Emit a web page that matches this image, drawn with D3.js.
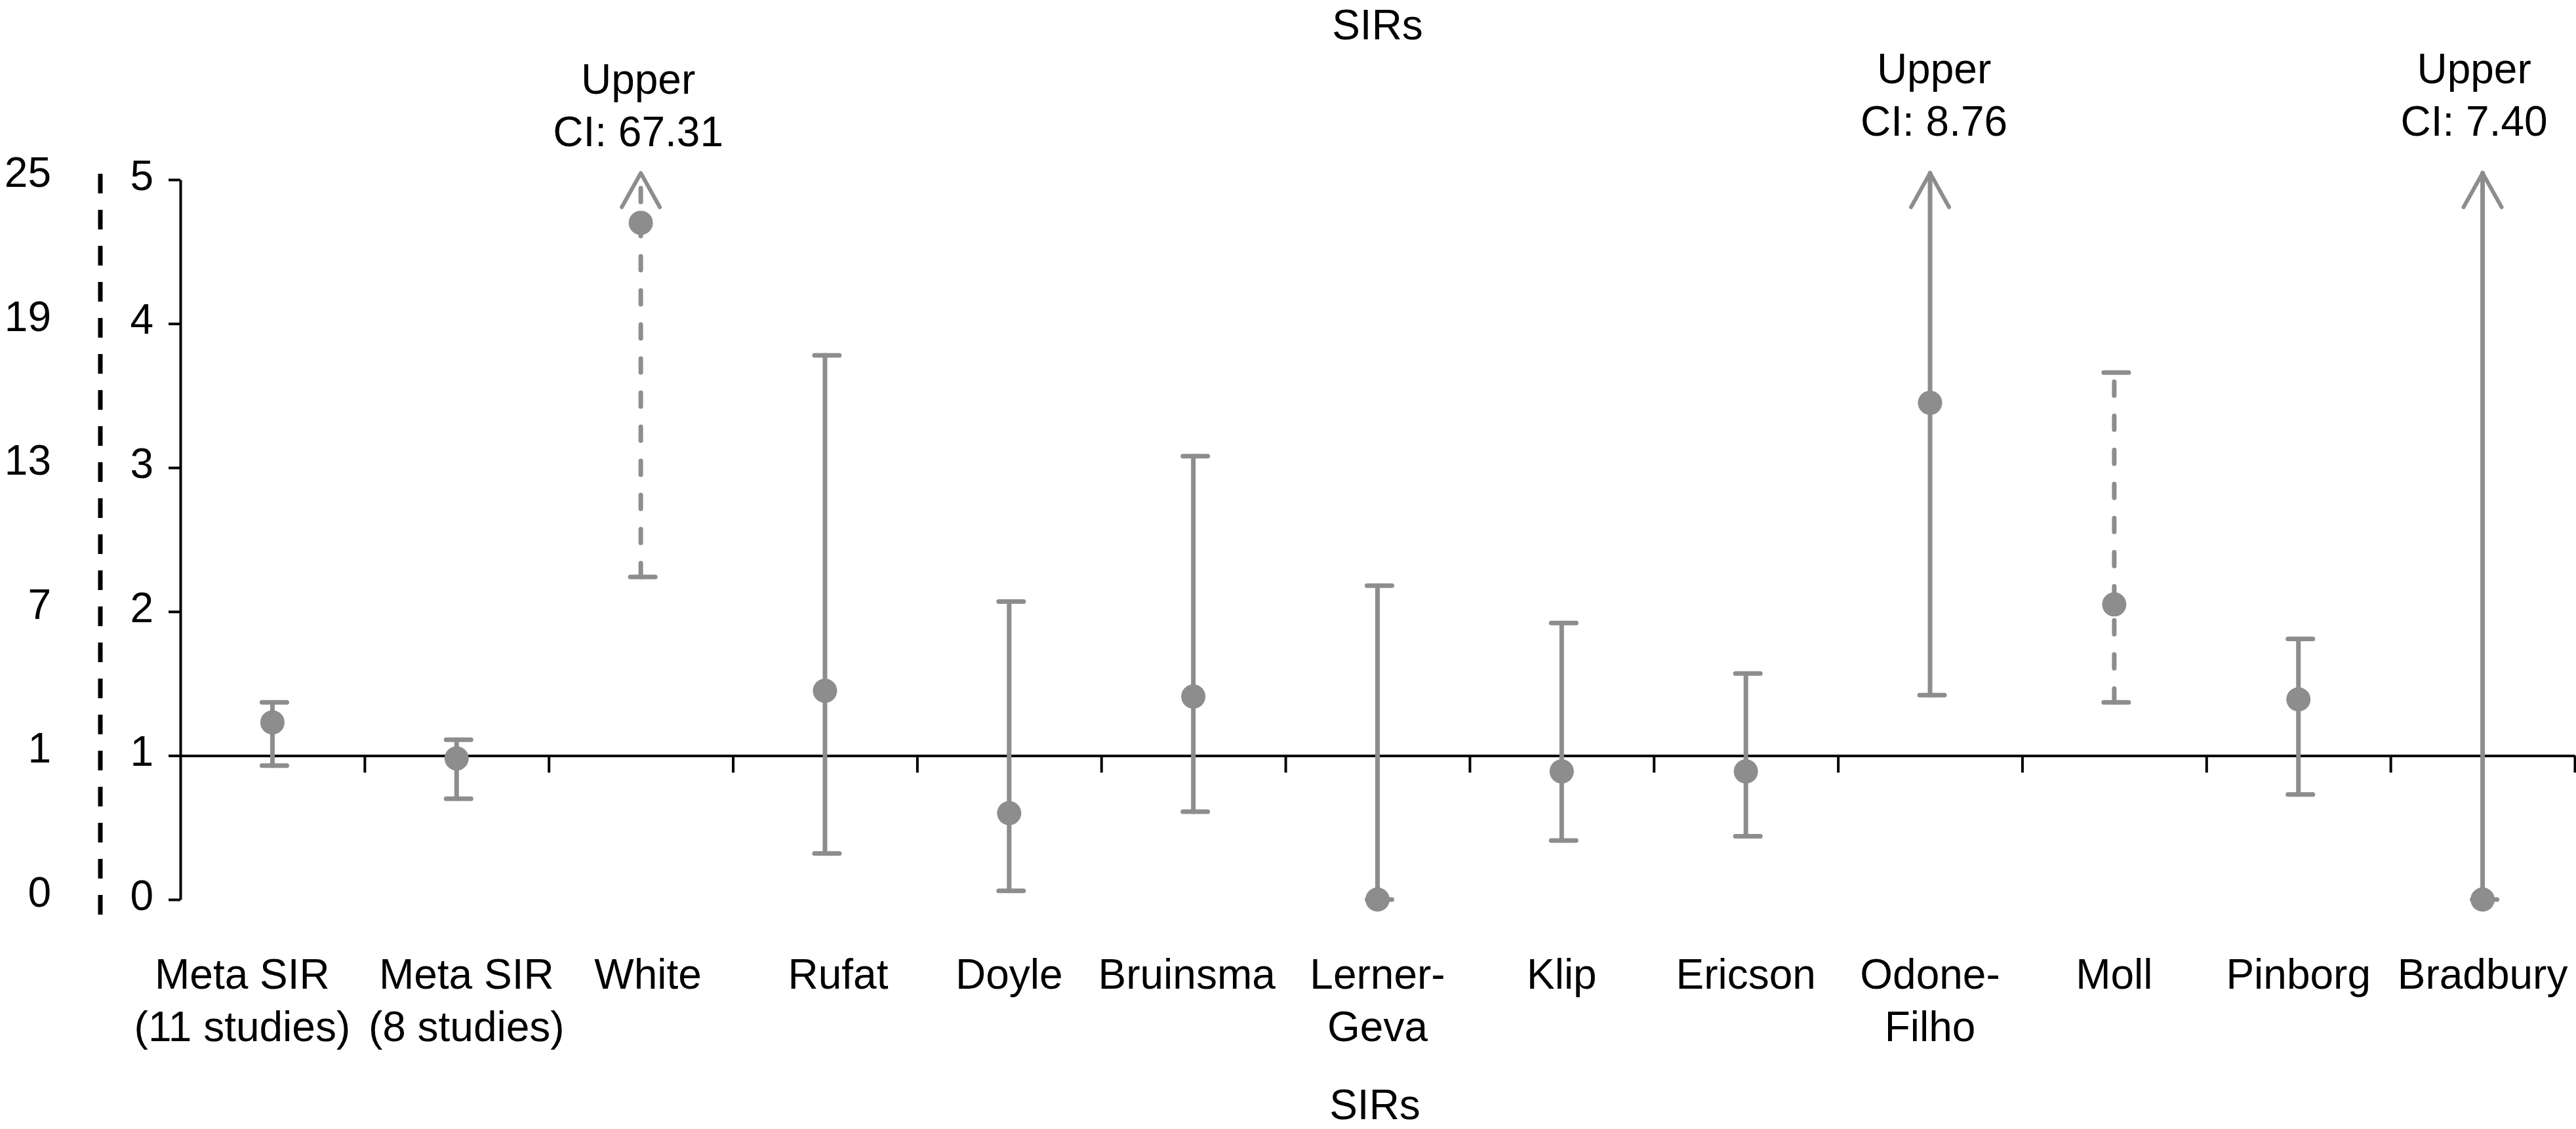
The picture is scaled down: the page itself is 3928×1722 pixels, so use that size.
<!DOCTYPE html>
<html>
<head>
<meta charset="utf-8">
<script src="https://cdn.jsdelivr.net/npm/d3@7"></script>
<style>
  html, body { margin: 0; padding: 0; background: #fff; }
  svg { display: block; }
  text { font-family: "Liberation Sans", Arial, Helvetica, sans-serif; fill: #000; }
</style>
</head>
<body>
<svg id="chart" width="3928" height="1722"></svg>
<script>
// ---------------- DATA ----------------
const categories = [
  "Meta SIR\n(11 studies)", "Meta SIR\n(8 studies)", "White", "Rufat", "Doyle", "Bruinsma",
  "Lerner-\nGeva", "Klip", "Ericson", "Odone-\nFilho", "Moll", "Pinborg", "Bradbury"
];
// values on the plotted (inner, 0–5) axis
const sir     = [1.23, 0.98, 4.70, 1.45, 0.60, 1.41, 0.00, 0.89, 0.89, 3.45, 2.05, 1.39, 0.00];
const lowerCI = [0.93, 0.70, 2.24, 0.32, 0.06, 0.61, 0.00, 0.41, 0.44, 1.42, 1.37, 0.73, 0.00];
const upperCI = [1.37, 1.11, null, 3.78, 2.07, 3.08, 2.18, 1.92, 1.57, null, 3.66, 1.81, null];
// upper CI beyond the axis (shown as an arrow with a note)
const offScaleUpper = [null, null, "67.31", null, null, null, null, null, null, "8.76", null, null, "7.40"];
const dashedCI = [false, false, true, false, false, false, false, false, false, false, true, false, false];
const innerTicks = [0, 1, 2, 3, 4, 5];
const outerTickLabels = ["0", "1", "7", "13", "19", "25"];
const axisTitle = "SIRs";

// ---------------- LAYOUT ----------------
const W = 3928, H = 1722;
const xLeft = 275, xRight = 3926;
const yZero = 1372, yFive = 274;
const grey = "#8d8d8d";
const fontSize = 64;
const barWidth = 7;
// small horizontal nudges of category labels (px), as placed in the original
const labelNudge = {0: -46, 1: 15, 2: 11, 3: 20, 5: -10};
// annotation placement relative to arrow: dx, baseline of 2nd line above tip
const annotPlace = {2: {dx: -4, up: 41}, 9: {dx: 6, up: 57}, 12: {dx: -13, up: 57}};

const svg = d3.select("#chart");
svg.append("rect").attr("width", W).attr("height", H).attr("fill", "#fff");

const x = d3.scaleBand().domain(d3.range(categories.length)).range([xLeft, xRight]).padding(0);
const y = d3.scaleLinear().domain([0, 5]).range([yZero, yFive]);
const bw = x.bandwidth();
const cx = i => x(i) + bw / 2;

// ---- left dashed (broken scale) line ----
svg.append("line")
  .attr("x1", 153).attr("x2", 153).attr("y1", 265).attr("y2", 1396)
  .attr("stroke", "#000").attr("stroke-width", 7).attr("stroke-dasharray", "30,25");

// ---- outer tick labels ----
svg.append("g").selectAll("text").data(outerTickLabels).join("text")
  .attr("x", 78).attr("y", (d, i) => y(innerTicks[i]) + 11)
  .attr("text-anchor", "end").attr("font-size", fontSize).text(d => d);

// ---- inner y axis ----
const yAxis = d3.axisLeft(y).tickValues(innerTicks).tickFormat(d3.format("d"))
  .tickSizeInner(18).tickSizeOuter(0).tickPadding(23);
const gy = svg.append("g").attr("transform", `translate(${xLeft},0)`).call(yAxis);
gy.select(".domain").attr("stroke", "#000").attr("stroke-width", 4);
gy.selectAll(".tick line").attr("stroke", "#000").attr("stroke-width", 4);
gy.selectAll(".tick text").attr("font-size", fontSize).attr("dy", "0.24em")
  .attr("font-family", '"Liberation Sans", Arial, sans-serif').attr("fill", "#000");

// ---- horizontal axis at SIR = 1 ----
const xb = d3.scaleLinear().domain([0, categories.length]).range([xLeft, xRight]);
const xAxis = d3.axisBottom(xb).tickValues(d3.range(1, categories.length + 1)).tickFormat("")
  .tickSizeInner(26).tickSizeOuter(0);
const gx = svg.append("g").attr("transform", `translate(0,${y(1)})`).call(xAxis);
gx.select(".domain").attr("stroke", "#000").attr("stroke-width", 4);
gx.selectAll(".tick line").attr("stroke", "#000").attr("stroke-width", 4);

// ---- error bars ----
const tipY = yFive - 10;
const g = svg.append("g");
categories.forEach((c, i) => {
  const X = cx(i);
  const top = upperCI[i] !== null ? y(upperCI[i]) : tipY;
  g.append("line")
    .attr("x1", X).attr("x2", X).attr("y1", y(lowerCI[i])).attr("y2", top)
    .attr("stroke", grey).attr("stroke-width", barWidth).attr("stroke-linecap", "round")
    .attr("stroke-dasharray", dashedCI[i] ? "21,31" : null);
  // lower cap
  g.append("line").attr("x1", X - 16).attr("x2", X + 22)
    .attr("y1", y(lowerCI[i])).attr("y2", y(lowerCI[i]))
    .attr("stroke", grey).attr("stroke-width", barWidth).attr("stroke-linecap", "round");
  if (upperCI[i] !== null) {
    g.append("line").attr("x1", X - 16).attr("x2", X + 22)
      .attr("y1", y(upperCI[i])).attr("y2", y(upperCI[i]))
      .attr("stroke", grey).attr("stroke-width", barWidth).attr("stroke-linecap", "round");
  } else {
    g.append("path")
      .attr("d", `M${X - 29},${tipY + 52} L${X},${tipY} L${X + 29},${tipY + 52}`)
      .attr("fill", "none").attr("stroke", grey).attr("stroke-width", 6)
      .attr("stroke-linecap", "round").attr("stroke-linejoin", "round");
    const p = annotPlace[i] || {dx: 0, up: 50};
    const t = svg.append("text").attr("text-anchor", "middle").attr("font-size", fontSize);
    t.append("tspan").attr("x", X + p.dx).attr("y", tipY - p.up - 80).text("Upper");
    t.append("tspan").attr("x", X + p.dx).attr("y", tipY - p.up).text("CI: " + offScaleUpper[i]);
  }
});
// points
g.selectAll("circle").data(sir).join("circle")
  .attr("cx", (d, i) => cx(i)).attr("cy", d => y(d)).attr("r", 18.5).attr("fill", grey);

// ---- category labels ----
categories.forEach((c, i) => {
  const t = svg.append("text").attr("text-anchor", "middle").attr("font-size", fontSize);
  c.split("\n").forEach((line, k) => {
    t.append("tspan").attr("x", cx(i) + (labelNudge[i] || 0)).attr("y", 1508 + k * 80).text(line);
  });
});

// ---- titles ----
const midX = (xLeft + xRight) / 2;
svg.append("text").attr("x", midX).attr("y", 60).attr("text-anchor", "middle")
  .attr("font-size", fontSize).text(axisTitle);
svg.append("text").attr("x", midX - 4).attr("y", 1707).attr("text-anchor", "middle")
  .attr("font-size", fontSize).text(axisTitle);
</script>
</body>
</html>
